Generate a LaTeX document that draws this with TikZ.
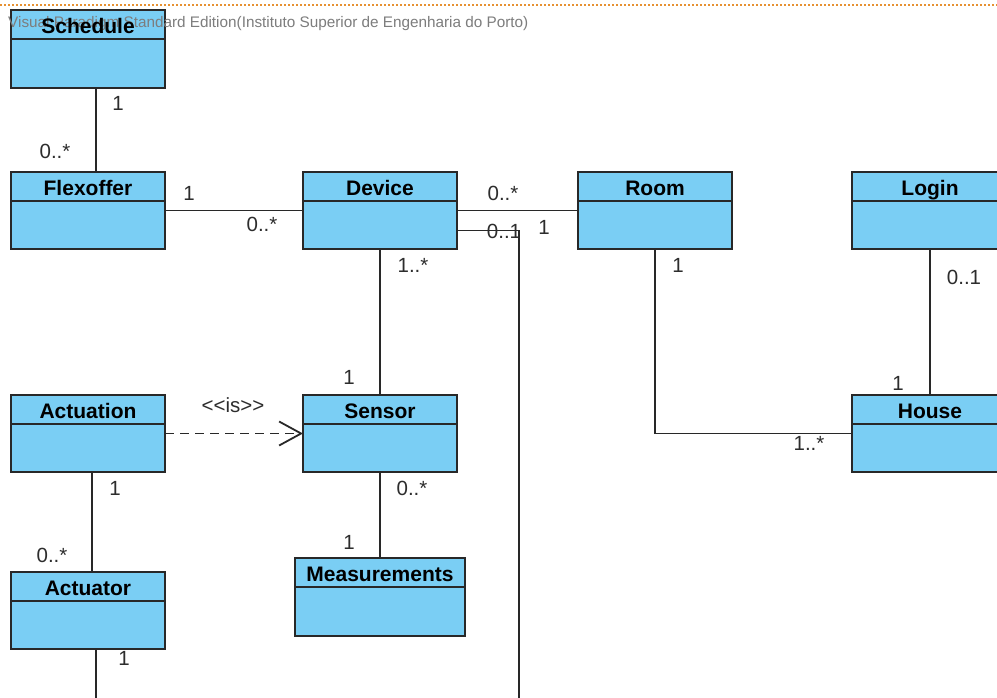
\documentclass[tikz,border=0pt]{standalone}
\usepackage{fontspec}
\setmainfont{Liberation Sans}
\usetikzlibrary{arrows.meta}

\definecolor{classfill}{RGB}{122,206,244}
\definecolor{edgegray}{RGB}{40,40,40}
\definecolor{labelgray}{RGB}{45,45,45}
\definecolor{markgray}{RGB}{125,125,125}
\definecolor{pageorange}{RGB}{230,145,50}

\tikzset{
  classbox/.style={draw=edgegray, fill=classfill, line width=1.7pt,
    inner sep=0pt, outer sep=0pt, anchor=north west},
  divider/.style={draw=edgegray, line width=1.5pt},
  classname/.style={font=\bfseries\fontsize{21}{25}\selectfont, text=black,
    inner sep=0pt, anchor=base},
  assoc/.style={draw=edgegray, line width=1.6pt},
  realize/.style={assoc, line width=1.8pt, dash pattern=on 9pt off 6pt,
    -{Straight Barb[length=22pt,width=24pt]}},
  mult/.style={font=\fontsize{20.5}{24}\selectfont, text=labelgray, inner sep=0pt},
}

% class box: name, x, y, width, height
\newcommand{\umlbox}[5]{%
  \node[classbox, minimum width=#4pt, minimum height=#5pt] (#1) at (#2,#3) {};
  \draw[divider] ([yshift=-29pt]#1.north west) -- ([yshift=-29pt]#1.north east);}
% class title: box name, text
\newcommand{\umltitle}[2]{%
  \node[classname] (#1-name) at ([yshift=-23pt]#1.north) {#2};}

\begin{document}
\begin{tikzpicture}[x=1pt,y=-1pt]
\useasboundingbox (0,0) rectangle (997,697);
\fill[white] (0,0) rectangle (997,697);
\begin{scope}
\clip (0,0) rectangle (997,697);

% page edge
\draw[pageorange, line width=1.3pt, dash pattern=on 2pt off 2pt] (0,5) -- (997,5);

% classes
\umlbox{schedule}{11}{10}{154}{78}
\umlbox{flexoffer}{11}{172}{154}{77}
\umlbox{device}{303}{172}{154}{77}
\umlbox{room}{578}{172}{154}{77}
\umlbox{login}{852}{172}{156}{77}
\umlbox{actuation}{11}{395}{154}{77}
\umlbox{sensor}{303}{395}{154}{77}
\umlbox{house}{852}{395}{156}{77}
\umlbox{actuator}{11}{572}{154}{77}
\umlbox{measurements}{295}{558}{170}{78}

% watermark
\node[font=\fontsize{15.3}{18}\selectfont, text=markgray, inner sep=0pt,
  anchor=base west] (watermark) at (8,27)
  {Visual Paradigm Standard Edition(Instituto Superior de Engenharia do Porto)};

\umltitle{schedule}{Schedule}
\umltitle{flexoffer}{Flexoffer}
\umltitle{device}{Device}
\umltitle{room}{Room}
\umltitle{login}{Login}
\umltitle{actuation}{Actuation}
\umltitle{sensor}{Sensor}
\umltitle{house}{House}
\umltitle{actuator}{Actuator}
\umltitle{measurements}{Measurements}

% free ends leaving the page
\coordinate (devdrop) at (519,710);
\coordinate (actdrop) at (96,710);

% associations
\draw[assoc] ([xshift=8pt]schedule.south) -- ([xshift=8pt]flexoffer.north);
\draw[assoc] (flexoffer.east) -- (device.west);
\draw[assoc] (device.east) -- (room.west);
\draw[assoc] ([yshift=-20pt]device.east) -| (devdrop);
\draw[assoc] (device.south) -- (sensor.north);
\draw[assoc] (room.south) |- (house.west);
\draw[assoc] (login.south) -- (house.north);
\draw[assoc] ([xshift=4pt]actuation.south) -- ([xshift=4pt]actuator.north);
\draw[assoc] (sensor.south) -- (measurements.north);
\draw[assoc] (actuator.south -| actdrop) -- (actdrop);
\draw[realize] (actuation.east) -- (sensor.west);

% multiplicities and stereotype
\node[mult] (m1) at (118,103) {1};
\node[mult] (m2) at (55,151) {0..*};
\node[mult] (m3) at (189,193) {1};
\node[mult] (m4) at (262,224) {0..*};
\node[mult] (m5) at (503,193) {0..*};
\node[mult] (m6) at (544,227) {1};
\node[mult] (m7) at (504,231) {0..1};
\node[mult] (m8) at (413,265) {1..*};
\node[mult] (m9) at (349,377) {1};
\node[mult] (m10) at (678,265) {1};
\node[mult] (m11) at (809,443) {1..*};
\node[mult] (m12) at (964,277) {0..1};
\node[mult] (m13) at (898,383) {1};
\node[mult] (m14) at (115,488) {1};
\node[mult] (m15) at (52,555) {0..*};
\node[mult] (m16) at (412,488) {0..*};
\node[mult] (m17) at (349,542) {1};
\node[mult] (m18) at (124,658) {1};
\node[mult] (stereo) at (233,405) {<{}<is>{}>};
\end{scope}
\end{tikzpicture}
\end{document}
